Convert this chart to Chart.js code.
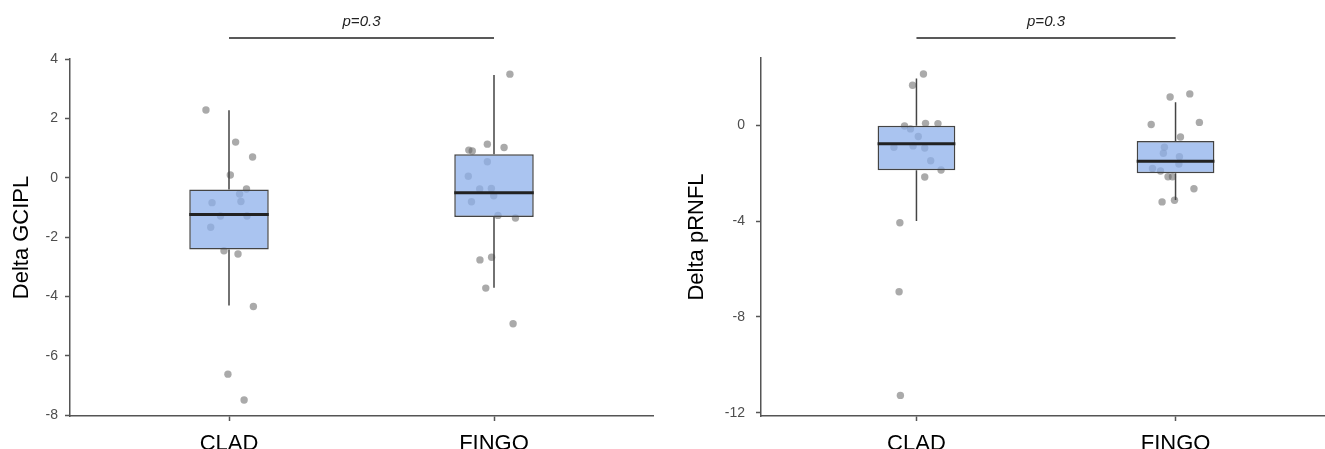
<!DOCTYPE html>
<html>
<head>
<meta charset="utf-8">
<title>Delta GCIPL / Delta pRNFL</title>
<script src="https://cdn.jsdelivr.net/npm/chart.js@4"></script>
<style>
  html, body { margin: 0; padding: 0; background: #fff; overflow: hidden; }
  .panel { position: absolute; top: 0; }
</style>
</head>
<body>
<div class="panel" style="left:0px"><canvas id="gciplChart" width="660" height="470"></canvas></div>
<div class="panel" style="left:670px"><canvas id="prnflChart" width="665" height="470"></canvas></div>
<script>
const groups = ["CLAD", "FINGO"];
const pLabel = "p=0.3";

// GCIPL box stats (per group): lower whisker, q1, median, q3, upper whisker
const gciplLow = [-4.31, -3.71];
const gciplQ1 = [-2.42, -1.32];
const gciplMedian = [-1.24, -0.51];
const gciplQ3 = [-0.40, 0.79];
const gciplHigh = [2.27, 3.46];
const gciplTicks = [-8, -6, -4, -2, 0, 2, 4];

// GCIPL jittered points (offset from group centre, value)
const gciplCladJitter = [-0.087, 0.025, 0.089, 0.005, 0.066, 0.040, -0.064, 0.045, -0.032, 0.068, -0.069, -0.019, 0.034, 0.092, -0.004, 0.057];
const gciplCladValues = [2.28, 1.20, 0.70, 0.09, -0.38, -0.55, -0.84, -0.80, -1.29, -1.29, -1.67, -2.46, -2.57, -4.34, -6.62, -7.49];
const gciplFingoJitter = [0.060, -0.025, 0.038, -0.095, -0.082, -0.025, -0.097, -0.054, -0.010, -0.001, -0.085, 0.015, 0.081, -0.009, -0.053, -0.031, 0.072];
const gciplFingoValues = [3.49, 1.13, 1.02, 0.93, 0.90, 0.54, 0.05, -0.38, -0.36, -0.61, -0.81, -1.27, -1.36, -2.68, -2.77, -3.72, -4.92];

// pRNFL box stats
const prnflLow = [-4.0, -3.12];
const prnflQ1 = [-1.88, -2.0];
const prnflMedian = [-0.77, -1.50];
const prnflQ3 = [-0.02, -0.66];
const prnflHigh = [1.95, 0.96];
const prnflTicks = [-12, -8, -4, 0];

const prnflCladJitter = [0.027, -0.015, 0.035, 0.083, -0.046, -0.023, 0.007, -0.087, -0.013, 0.032, 0.055, 0.095, 0.032, -0.064, -0.067, -0.062];
const prnflCladValues = [2.14, 1.67, 0.08, 0.07, -0.03, -0.15, -0.47, -0.92, -0.86, -0.95, -1.48, -1.87, -2.16, -4.07, -6.95, -11.28];
const prnflFingoJitter = [0.055, -0.021, 0.092, -0.094, 0.019, -0.043, -0.047, 0.015, 0.013, -0.089, -0.058, -0.029, -0.012, 0.071, -0.004, -0.052];
const prnflFingoValues = [1.31, 1.18, 0.12, 0.03, -0.49, -0.92, -1.17, -1.31, -1.62, -1.80, -1.91, -2.15, -2.15, -2.65, -3.13, -3.20];

const FONT = "'Liberation Sans', Arial, Helvetica, sans-serif";
const BOX_WIDTH = 0.3;

// Draws the significance bracket and p-value above the plot
const bracketPlugin = {
  id: "bracket",
  afterDraw(chart) {
    const { ctx, scales } = chart;
    const x1 = scales.x.getPixelForValue(1);
    const x2 = scales.x.getPixelForValue(2);
    ctx.save();
    ctx.strokeStyle = "#222";
    ctx.lineWidth = 1.5;
    ctx.beginPath();
    ctx.moveTo(x1, 38);
    ctx.lineTo(x2, 38);
    ctx.stroke();
    ctx.fillStyle = "#222";
    ctx.font = "italic 15px " + FONT;
    ctx.textAlign = "center";
    ctx.textBaseline = "middle";
    ctx.fillText(pLabel, (x1 + x2) / 2, 22);
    ctx.restore();
  },
};

function buildPanel(canvasId, cfg) {
  const boxes = groups.map((g, i) => ({ x: i + 1, y: [cfg.q1[i], cfg.q3[i]] }));

  const whiskers = [];
  groups.forEach((g, i) => {
    whiskers.push({ x: i + 1, y: cfg.low[i] }, { x: i + 1, y: cfg.q1[i] }, { x: i + 1, y: null });
    whiskers.push({ x: i + 1, y: cfg.q3[i] }, { x: i + 1, y: cfg.high[i] }, { x: i + 1, y: null });
  });

  const medians = [];
  groups.forEach((g, i) => {
    medians.push({ x: i + 1 - BOX_WIDTH / 2, y: cfg.median[i] }, { x: i + 1 + BOX_WIDTH / 2, y: cfg.median[i] }, { x: i + 1.5, y: null });
  });

  const points = [];
  cfg.jitter.forEach((offsets, gi) => {
    offsets.forEach((dx, k) => points.push({ x: gi + 1 + dx, y: cfg.values[gi][k] }));
  });

  return new Chart(document.getElementById(canvasId).getContext("2d"), {
    type: "bar",
    data: {
      datasets: [
        {
          type: "line",
          data: medians,
          borderColor: "#222",
          borderWidth: 3,
          pointRadius: 0,
          spanGaps: false,
          order: 0,
        },
        {
          type: "bar",
          data: boxes,
          backgroundColor: "rgba(142, 176, 235, 0.75)",
          borderColor: "#444",
          borderWidth: 1.5,
          borderSkipped: false,
          barPercentage: BOX_WIDTH,
          categoryPercentage: 1,
          order: 1,
        },
        {
          type: "line",
          data: whiskers,
          borderColor: "#444",
          borderWidth: 1.5,
          pointRadius: 0,
          spanGaps: false,
          order: 2,
        },
        {
          type: "scatter",
          data: points,
          backgroundColor: "rgba(100, 100, 100, 0.55)",
          borderWidth: 0,
          pointRadius: 3.7,
          order: 3,
        },
      ],
    },
    options: {
      responsive: false,
      animation: false,
      layout: { padding: { top: cfg.top, right: cfg.right, bottom: 0, left: 0 } },
      plugins: { legend: { display: false }, tooltip: { enabled: false } },
      scales: {
        x: {
          type: "linear",
          min: 0.4,
          max: 2.6,
          offset: false,
          afterBuildTicks: (scale) => {
            scale.ticks = groups.map((g, i) => ({ value: i + 1 }));
          },
          afterFit: (scale) => {
            scale.height = 54;
          },
          border: { display: true, color: "#555", width: 1.5 },
          grid: { offset: false, drawOnChartArea: false, drawTicks: true, tickLength: 5, color: "#555", tickWidth: 1.5 },
          ticks: {
            callback: (value) => groups[value - 1],
            color: "#000",
            font: { size: 22, family: FONT },
            padding: 10,
            maxRotation: 0,
            autoSkip: false,
          },
        },
        y: {
          min: cfg.yMin,
          max: cfg.yMax,
          afterBuildTicks: (scale) => {
            scale.ticks = cfg.ticks.map((v) => ({ value: v }));
          },
          afterFit: (scale) => {
            scale.width = cfg.axisWidth;
          },
          border: { display: true, color: "#555", width: 1.5 },
          grid: { drawOnChartArea: false, drawTicks: true, tickLength: 5, color: "#555", tickWidth: 1.5 },
          ticks: { color: "#4d4d4d", font: { size: 14, family: FONT }, padding: cfg.tickPad },
          title: {
            display: true,
            text: cfg.title,
            color: "#000",
            font: { size: 22, family: FONT },
            padding: { top: cfg.titlePad, bottom: 0 },
          },
        },
      },
    },
    plugins: [bracketPlugin],
  });
}

document.addEventListener("DOMContentLoaded", () => {
  buildPanel("gciplChart", {
    title: "Delta GCIPL",
    low: gciplLow, q1: gciplQ1, median: gciplMedian, q3: gciplQ3, high: gciplHigh,
    jitter: [gciplCladJitter, gciplFingoJitter],
    values: [gciplCladValues, gciplFingoValues],
    ticks: gciplTicks,
    yMin: -8.03, yMax: 4,
    top: 59, right: 7, axisWidth: 70, tickPad: 7, titlePad: 9,
  });
  buildPanel("prnflChart", {
    title: "Delta pRNFL",
    low: prnflLow, q1: prnflQ1, median: prnflMedian, q3: prnflQ3, high: prnflHigh,
    jitter: [prnflCladJitter, prnflFingoJitter],
    values: [prnflCladValues, prnflFingoValues],
    ticks: prnflTicks,
    yMin: -12.14, yMax: 2.81,
    top: 58, right: 0, axisWidth: 91, tickPad: 11, titlePad: 14,
  });
});
</script>
</body>
</html>
